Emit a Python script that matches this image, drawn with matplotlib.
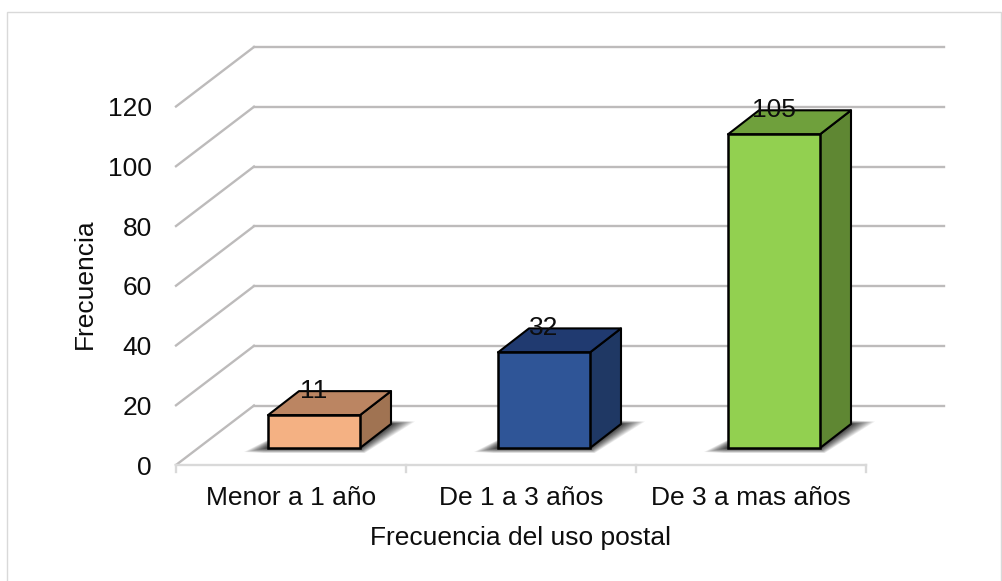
import matplotlib
matplotlib.use('Agg')
import matplotlib.pyplot as plt
from matplotlib.patches import Polygon, Rectangle

plt.rcParams['font.family'] = ['Liberation Sans', 'DejaVu Sans']

categorias = ['Menor a 1 año', 'De 1 a 3 años', 'De 3 a mas años']
valores = [11, 32, 105]
ticks_y = [0, 20, 40, 60, 80, 100, 120]
color_frente = ['#F4B183', '#2F5597', '#92D050']
color_arriba = ['#BB8562', '#203A70', '#6FA03C']
color_lado = ['#A07352', '#1F3864', '#5F8733']

W, H = 1003, 581
fig = plt.figure(figsize=(W / 100, H / 100), dpi=100)
fig.patches.append(Rectangle((7.5 / W, -0.01), (1001.5 - 7.5) / W, 1.01 - 12 / H,
                             transform=fig.transFigure, fc='white', ec='#D9D9D9', lw=1, zorder=-1))

# eje frontal: de x=176 a 866, y=465 (0) a y=106.5 (120)
ax = fig.add_axes([176 / W, 1 - 465 / H, 690 / W, 358.5 / H])
ax.set_xlim(0, 3)
ax.set_ylim(0, 120)
ax.axis('off')

px_x = 3 / 690
px_y = 120 / 358.5
fondo_x = 78 * px_x
fondo_y = 59.5 * px_y
gris = '#BDBBBB'

# paredes y rejilla
for t in ticks_y:
    ax.plot([0, fondo_x], [t, t + fondo_y], color=gris, lw=1.7, clip_on=False, zorder=1)
    ax.plot([fondo_x, 3 + fondo_x], [t + fondo_y, t + fondo_y], color=gris, lw=1.7,
            clip_on=False, zorder=1)

# eje x
ax.plot([0, 3], [0, 0], color='#D9D9D9', lw=1.7, clip_on=False, zorder=1)
for i in range(4):
    ax.plot([i, i], [0, -7 * px_y], color='#D9D9D9', lw=1.7, clip_on=False, zorder=1)

# barras 3d
ancho = 92 * px_x
base_dx = 23 * px_x
base_dy = 17 * px_y
prof_x = 31 * px_x
prof_y = 24 * px_y

for i, v in enumerate(valores):
    x0 = i + 0.5 + base_dx - ancho / 2
    x1 = x0 + ancho
    y0 = base_dy
    y1 = y0 + v

    # sombra difusa
    for k in range(20):
        e = (1 - k / 20) ** 1.6
        ex = (24 * e) * px_x
        ey = (5 * e) * px_y
        ax.add_patch(Polygon([(x0 - ex, y0 - ey * 0.8), (x0 - ex * 0.2, y0 - ey), (x1 + ex * 0.2, y0 - ey),
                              (x1 + prof_x + ex, y0 + prof_y + ey * 0.5),
                              (x1 + prof_x - ex * 0.5, y0 + prof_y + ey * 0.8),
                              (x0 + prof_x, y0 + prof_y)],
                             fc='black', ec='none', alpha=0.07, clip_on=False, zorder=2))

    ax.add_patch(Polygon([(x1, y0), (x1 + prof_x, y0 + prof_y), (x1 + prof_x, y1 + prof_y), (x1, y1)],
                         fc=color_lado[i], ec='black', lw=1.5, joinstyle='round', clip_on=False, zorder=3))
    ax.add_patch(Polygon([(x0, y1), (x1, y1), (x1 + prof_x, y1 + prof_y), (x0 + prof_x, y1 + prof_y)],
                         fc=color_arriba[i], ec='black', lw=1.5, joinstyle='round', clip_on=False, zorder=3))
    ax.add_patch(Rectangle((x0, y0), ancho, v, fc=color_frente[i], ec='black', lw=1.8,
                           clip_on=False, zorder=4))
    ax.text(i + 0.5 + base_dx, y1 + 8.2, str(v), fontsize=19, color='#0D0D0D', ha='center',
            va='center', clip_on=False, zorder=5)

# etiquetas
for t in ticks_y:
    ax.text(-24 * px_x, t - 0.9, str(t), fontsize=19, color='#0D0D0D', ha='right', va='center',
            clip_on=False)
for i, c in enumerate(categorias):
    ax.text(i + 0.5, -33 * px_y, c, fontsize=19, color='#0D0D0D', ha='center', va='center',
            clip_on=False)

fig.text(520.5 / W, 1 - 537.5 / H, 'Frecuencia del uso postal', fontsize=19, color='#0D0D0D',
         ha='center', va='center')
fig.text(85 / W, 1 - 284 / H, 'Frecuencia', fontsize=19, color='#0D0D0D', rotation=90,
         ha='center', va='center')

fig.savefig('out.png', dpi=100)
